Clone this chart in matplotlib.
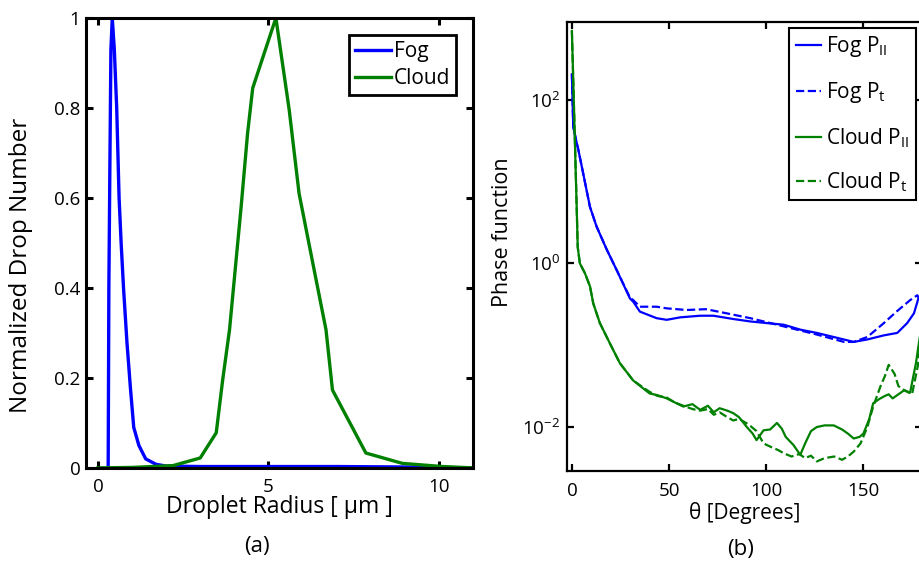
import numpy as np
import matplotlib
matplotlib.use("Agg")
import matplotlib.pyplot as plt
from matplotlib.ticker import FixedLocator, LogFormatterMathtext, NullLocator

plt.rcParams["font.family"] = ["Open Sans", "DejaVu Sans"]
plt.rcParams["mathtext.default"] = "regular"

# (a) droplet size distributions
fog_r = [0.3, 0.32, 0.35, 0.38, 0.42, 0.48, 0.55, 0.62, 0.68, 0.75, 0.85, 0.95,
         1.05, 1.2, 1.4, 1.7, 2.0, 3.0, 5.0, 7.0, 9.0, 10.0, 11.0]
fog_n = [0.0, 0.4, 0.67, 0.93, 1.0, 0.93, 0.8, 0.6, 0.5, 0.4, 0.28, 0.18,
         0.09, 0.05, 0.02, 0.008, 0.004, 0.003, 0.003, 0.003, 0.002, 0.001, 0.0]

cloud_r = [0.0, 1.0, 2.2, 3.0, 3.47, 3.66, 3.86, 4.2, 4.39, 4.54, 4.74, 5.22,
           5.61, 5.9, 6.29, 6.69, 6.88, 7.86, 8.93, 10.1, 11.0]
cloud_n = [0.0, 0.001, 0.005, 0.022, 0.078, 0.196, 0.307, 0.58, 0.744, 0.844, 0.89, 1.0,
           0.796, 0.61, 0.46, 0.307, 0.173, 0.033, 0.01, 0.003, 0.0]

# (b) phase functions, values given as log10
fog_par_th = [0, 0.35, 0.7, 2.1, 3.3, 5.8, 9.3, 12.7, 17.9, 23, 29.9, 31.6, 35, 43.6,
              48.8, 55.7, 66, 72.8, 83, 91.8, 100.3, 109, 117.5, 126, 134.7, 141.6,
              145, 152, 160.5, 167.4, 172.5, 176, 178.5, 180]
fog_par_lg = [2.31, 2.0, 1.67, 1.51, 1.39, 1.10, 0.69, 0.45, 0.17, -0.08, -0.43, -0.47,
              -0.59, -0.67, -0.69, -0.66, -0.64, -0.64, -0.68, -0.71, -0.73, -0.75, -0.81,
              -0.85, -0.90, -0.94, -0.96, -0.93, -0.88, -0.85, -0.73, -0.61, -0.41, -0.38]

fog_per_th = [0, 0.35, 0.7, 2.1, 3.3, 5.8, 9.3, 12.7, 17.9, 23, 29.9, 31.6, 35, 43.6,
              48.8, 59, 69, 79.5, 91.8, 109, 126, 140, 145, 152, 160.5, 167, 174,
              177.7, 180]
fog_per_lg = [2.31, 2.0, 1.67, 1.51, 1.39, 1.10, 0.69, 0.45, 0.17, -0.08, -0.42, -0.45,
              -0.53, -0.53, -0.55, -0.57, -0.56, -0.61, -0.67, -0.77, -0.87, -0.96, -0.96,
              -0.90, -0.73, -0.59, -0.45, -0.39, -0.49]

cloud_par_th = [0, 0.5, 1.2, 1.9, 2.6, 3.0, 4.1, 6.7, 9.3, 11, 14.4, 19.6, 24.7, 31.5,
                36.8, 40, 44, 48.8, 53, 57.3, 62, 66, 70, 73, 76, 80, 83, 86, 90, 93, 95,
                98.6, 102, 105.5, 108, 110, 114, 117.5, 120, 123, 126, 130, 134.7, 139,
                142, 145, 148, 150, 153, 155, 158, 161, 163, 165, 168, 171, 174, 177, 179, 180]
cloud_par_lg = [2.84, 2.41, 1.8, 1.18, 0.57, 0.2, 0.0, -0.12, -0.28, -0.49, -0.73, -0.98,
                -1.22, -1.43, -1.53, -1.59, -1.61, -1.65, -1.70, -1.75, -1.72, -1.79, -1.74,
                -1.82, -1.77, -1.80, -1.83, -1.88, -2.0, -2.08, -2.16, -2.04, -2.03, -1.95,
                -2.02, -2.12, -2.22, -2.34, -2.2, -2.05, -2.0, -1.98, -1.98, -2.03, -2.08,
                -2.14, -2.12, -2.08, -1.9, -1.71, -1.66, -1.62, -1.60, -1.65, -1.60, -1.55,
                -1.58, -1.22, -0.9, -0.8]

cloud_per_th = [0, 0.5, 1.2, 1.9, 2.6, 3.0, 4.1, 6.7, 9.3, 11, 14.4, 19.6, 24.7, 31.5,
                36.8, 40, 44, 48.8, 53, 57.3, 62, 66, 70, 73, 76, 80, 83, 86, 91, 95, 98.6,
                103, 106, 109, 113, 117, 120, 123, 126, 130, 135, 139, 142, 145, 148.5, 152,
                155, 158.8, 161, 163, 166, 168, 171, 175, 178, 180]
cloud_per_lg = [2.84, 2.41, 1.8, 1.18, 0.57, 0.2, 0.0, -0.12, -0.28, -0.49, -0.73, -0.98,
                -1.22, -1.43, -1.52, -1.57, -1.62, -1.64, -1.70, -1.74, -1.78, -1.80, -1.78,
                -1.85, -1.82, -1.88, -1.92, -1.90, -1.97, -2.05, -2.2, -2.25, -2.28, -2.32,
                -2.36, -2.33, -2.38, -2.35, -2.42, -2.38, -2.36, -2.40, -2.36, -2.30, -2.2,
                -2.0, -1.75, -1.5, -1.38, -1.24, -1.35, -1.5, -1.55, -1.6, -1.25, -0.8]

blue = (0, 0, 1)
green = (0, 0.5, 0)

fig = plt.figure(figsize=(9.19, 5.61), dpi=100)

# ---- panel (a)
ax1 = fig.add_axes([0.0936, 0.166, 0.421, 0.802])
ax1.plot(fog_r, fog_n, color=blue, lw=2.4, label="Fog")
ax1.plot(cloud_r, cloud_n, color=green, lw=2.4, label="Cloud")
ax1.set_xlim(-0.35, 11)
ax1.set_ylim(0, 1)
ax1.set_xticks([0, 5, 10])
ax1.set_yticks([0, 0.2, 0.4, 0.6, 0.8, 1])
ax1.set_yticklabels(["0", "0.2", "0.4", "0.6", "0.8", "1"])
ax1.set_xlabel("Droplet Radius [ \u03bcm ]", fontsize=16.5)
ax1.set_ylabel("Normalized Drop Number", fontsize=17.5)
ax1.xaxis.set_label_coords(0.5, -0.06)
ax1.yaxis.set_label_coords(-0.137, 0.451)
leg1 = ax1.legend(loc="upper right", fontsize=15, fancybox=False, edgecolor="black",
                  framealpha=1, handlelength=1.7, handletextpad=0.15, borderpad=0.3,
                  labelspacing=0.3, borderaxespad=0.8)
leg1.get_frame().set_linewidth(2)
fig.text(0.28, 0.025, "(a)", fontsize=16, ha="center", va="center")

# ---- panel (b)
ax2 = fig.add_axes([0.617, 0.160, 0.386, 0.801])
ax2.plot(fog_par_th, np.power(10.0, fog_par_lg), color=blue, lw=1.6, label="Fog P$_{II}$")
ax2.plot(fog_per_th, np.power(10.0, fog_per_lg), color=blue, lw=1.6, ls="--", label="Fog P$_t$")
ax2.plot(cloud_par_th, np.power(10.0, cloud_par_lg), color=green, lw=1.6, label="Cloud P$_{II}$")
ax2.plot(cloud_per_th, np.power(10.0, cloud_per_lg), color=green, lw=1.6, ls="--", label="Cloud P$_t$")
ax2.set_yscale("log")
ax2.set_xlim(-2.5, 180)
ax2.set_ylim(10 ** -2.54, 10 ** 2.95)
ax2.set_xticks([0, 50, 100, 150])
ax2.yaxis.set_major_locator(FixedLocator([1e-2, 1e0, 1e2]))
ax2.yaxis.set_major_formatter(LogFormatterMathtext())
ax2.yaxis.set_minor_locator(NullLocator())
ax2.set_xlabel("\u03b8 [Degrees]", fontsize=15)
ax2.set_ylabel("Phase function", fontsize=15.5)
ax2.xaxis.set_label_coords(0.5, -0.068)
ax2.yaxis.set_label_coords(-0.152, 0.532)
leg2 = ax2.legend(loc="upper right", fontsize=15, fancybox=False, edgecolor="black",
                  framealpha=1, handlelength=1.2, handletextpad=0.25, borderpad=0.3,
                  labelspacing=1.0, borderaxespad=0.3)
leg2.get_frame().set_linewidth(1.5)
fig.text(0.806, 0.02, "(b)", fontsize=16, ha="center", va="center")

for ax, lw, xpad, ypad in ((ax1, 2.2, 7, 4), (ax2, 1.6, 8, 5)):
    for s in ax.spines.values():
        s.set_linewidth(lw)
    ax.tick_params(direction="in", top=True, right=True, labelsize=13.5, width=lw, length=5)
    ax.tick_params(axis="x", pad=xpad)
    ax.tick_params(axis="y", pad=ypad)

fig.savefig("out.png", dpi=100)
